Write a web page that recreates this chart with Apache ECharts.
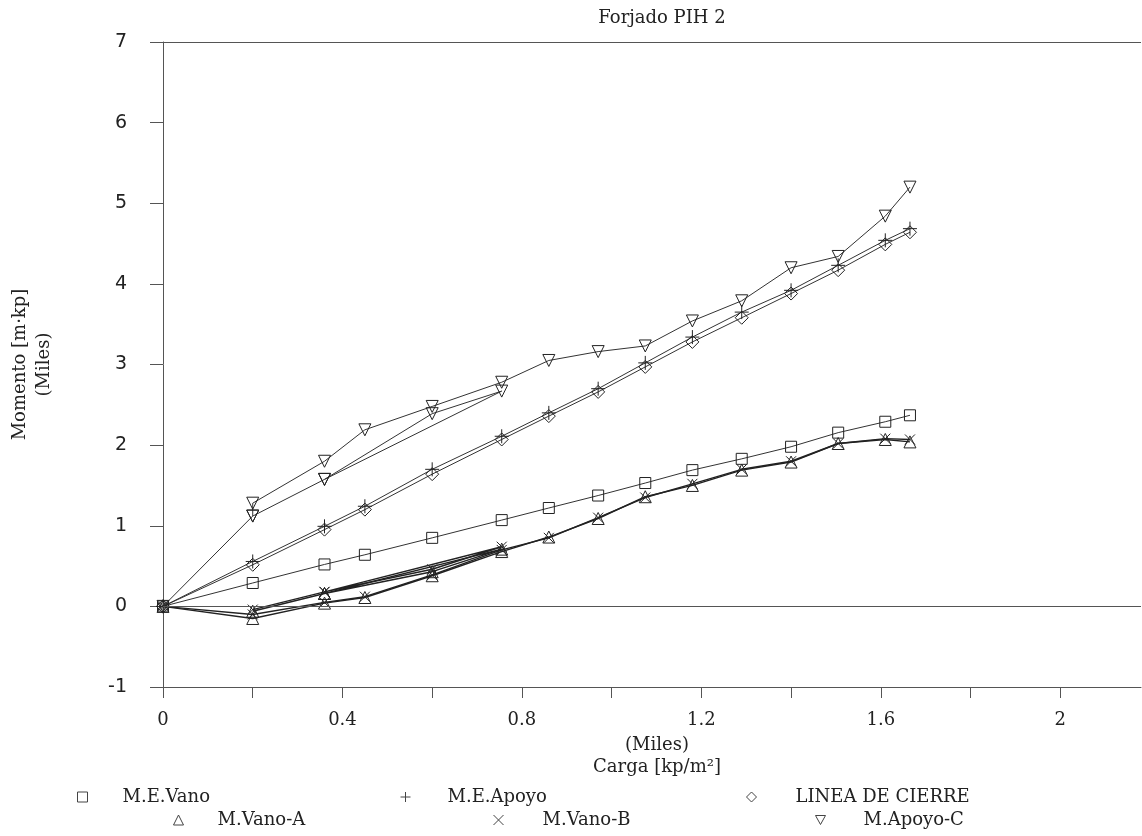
<!DOCTYPE html>
<html><head><meta charset="utf-8">
<script src="https://cdn.jsdelivr.net/npm/echarts@6/dist/echarts.min.js"></script>
<style>html,body{margin:0;padding:0;background:#fff}#c{width:1142px;height:836px}</style>
</head><body><div id="c"></div>
<script>
// Carga (Miles kp/m2)
const loadX = [0, 0.2, 0.36, 0.45, 0.6, 0.755, 0.86, 0.97, 1.075, 1.18, 1.29, 1.4, 1.505, 1.61, 1.665];
const meVano = [0, 0.29, 0.52, 0.64, 0.85, 1.07, 1.22, 1.375, 1.53, 1.69, 1.83, 1.98, 2.155, 2.29, 2.37];
const meApoyo = [0, 0.557, 0.993, 1.242, 1.70, 2.11, 2.40, 2.70, 3.02, 3.34, 3.65, 3.92, 4.23, 4.54, 4.685];
const lineaCierre = [0, 0.516, 0.952, 1.20, 1.64, 2.07, 2.36, 2.66, 2.97, 3.28, 3.58, 3.88, 4.17, 4.49, 4.64];
const mVanoA = [0, -0.15, 0.04, 0.11, 0.38, 0.68, 0.86, 1.09, 1.36, 1.50, 1.69, 1.79, 2.02, 2.07, 2.04];
const mVanoB = [0, -0.10, 0.05, 0.12, 0.39, 0.70, 0.85, 1.10, 1.35, 1.52, 1.70, 1.80, 2.02, 2.08, 2.07];
const apoyoCX = [0, 0.2, 0.2, 0.36, 0.45, 0.6, 0.755, 0.86, 0.97, 1.075, 1.18, 1.29, 1.4, 1.505, 1.61, 1.665];
const apoyoC  = [0, 1.12, 1.28, 1.80, 2.19, 2.48, 2.78, 3.05, 3.16, 3.23, 3.54, 3.79, 4.20, 4.34, 4.84, 5.20];
// second loading pass (repeated loads)
const branchX = [0.2, 0.36, 0.6, 0.755, 0.36];
const apoyoCBranch = [1.12, 1.575, 2.39, 2.67, 1.575];
const vanoABranch  = [-0.06, 0.16, 0.43, 0.71, 0.16];
const vanoBBranch  = [-0.04, 0.18, 0.46, 0.74, 0.18];
const xTicks = ['0', '0.4', '0.8', '1.2', '1.6', '2'];
const names = ['M.E.Vano', 'M.E.Apoyo', 'LINEA DE CIERRE', 'M.Vano-A', 'M.Vano-B', 'M.Apoyo-C'];

const zip = (xs, ys) => xs.map((x, i) => [x, ys[i]]);
const SYM = {
  rect: 'rect',
  plus: 'path://M5,0L5,10M0,5L10,5',
  diamond: 'diamond',
  tri: 'triangle',
  cross: 'path://M0,0L10,10M10,0L0,10',
  triDown: 'path://M0,0L10,0L5,9Z'
};
const SERIF = 'DejaVu Serif';
const chart = echarts.init(document.getElementById('c'), null, {renderer: 'canvas'});

function mk(name, data, symbol, size, opts) {
  return Object.assign({
    name, type: 'line', data, symbol, symbolSize: size,
    lineStyle: {color: '#333', width: 1},
    itemStyle: {color: 'rgba(255,255,255,0)', borderColor: '#222', borderWidth: 1},
    emphasis: {disabled: true}, animation: false, z: 3
  }, opts || {});
}
const heavy = {lineStyle: {color: '#222', width: 1.4}};

const series = [
  mk(names[0], zip(loadX, meVano), SYM.rect, 11, {
    markLine: {silent: true, symbol: 'none', label: {show: false},
      lineStyle: {color: '#555', width: 1, type: 'solid'},
      data: [{yAxis: 0}, {yAxis: 7}]}
  }),
  mk(names[1], zip(loadX, meApoyo), SYM.plus, 14),
  mk(names[2], zip(loadX, lineaCierre), SYM.diamond, 13),
  mk(names[3], zip(loadX, mVanoA), SYM.tri, 12, heavy),
  mk(names[4], zip(loadX, mVanoB), SYM.cross, 10, heavy),
  mk(names[5], zip(apoyoCX, apoyoC), SYM.triDown, 12),
  mk('M.Vano-A (2)', zip(branchX, vanoABranch), SYM.tri, 12, heavy),
  mk('M.Vano-B (2)', zip(branchX, vanoBBranch), SYM.cross, 10, heavy),
  mk('M.Apoyo-C (2)', zip(branchX, apoyoCBranch), SYM.triDown, 12)
];

const legendPos = [
  {left: 72, top: 783, pad: 30}, {left: 395, top: 783, pad: 32}, {left: 741, top: 783, pad: 34},
  {left: 168, top: 806, pad: 29}, {left: 488, top: 806, pad: 34}, {left: 810, top: 806, pad: 33}
];
const legendIcons = [SYM.rect, SYM.plus, SYM.diamond, SYM.tri, SYM.cross, SYM.triDown];
const legends = names.map((n, i) => ({
  data: [{name: n, icon: legendIcons[i]}],
  left: legendPos[i].left, top: legendPos[i].top,
  itemWidth: 10, itemHeight: 10, itemGap: 0, selectedMode: false,
  textStyle: {fontFamily: SERIF, fontSize: 18, color: '#222', padding: [0, 0, 0, legendPos[i].pad]},
  itemStyle: {color: 'rgba(255,255,255,0)', borderColor: '#444', borderWidth: 1}
}));

chart.setOption({
  animation: false,
  backgroundColor: '#fff',
  title: {text: 'Forjado PIH 2', left: 657, top: 4, textAlign: 'center',
    textStyle: {fontFamily: SERIF, fontSize: 18, fontWeight: 'normal', color: '#222'}},
  grid: {left: 163, right: 1, top: 42, bottom: 149, containLabel: false, outerBoundsMode: 'none'},
  legend: legends,
  xAxis: {
    type: 'value', min: 0, max: 2.18, interval: 0.2,
    name: '(Miles)\nCarga [kp/m²]', nameLocation: 'middle', nameGap: 47,
    nameTextStyle: {fontFamily: SERIF, fontSize: 18, color: '#222', lineHeight: 22, padding: [0, 0, 0, 10]},
    axisLine: {onZero: false, lineStyle: {color: '#555', width: 1}},
    axisTick: {inside: false, length: 11, lineStyle: {color: '#555'}},
    axisLabel: {margin: 24, fontFamily: SERIF, fontSize: 18, color: '#222', showMaxLabel: false,
      formatter: v => {
        const r = Math.round(v * 10) / 10;
        const s = String(r);
        return xTicks.indexOf(s) >= 0 && Math.abs(v - r) < 1e-6 ? s : '';
      }},
    splitLine: {show: false}
  },
  yAxis: {
    type: 'value', min: -1, max: 7, interval: 1,
    name: 'Momento [m·kp]\n(Miles)', nameLocation: 'middle', nameGap: 107, nameRotate: 90,
    nameTextStyle: {fontFamily: SERIF, fontSize: 18, color: '#222', lineHeight: 24},
    axisLine: {onZero: false, lineStyle: {color: '#555', width: 1}},
    axisTick: {inside: false, length: 13, lineStyle: {color: '#555'}},
    axisLabel: {margin: 36, fontFamily: 'DejaVu Sans', fontSize: 19, color: '#222'},
    splitLine: {show: false}
  },
  series
});
</script></body></html>
